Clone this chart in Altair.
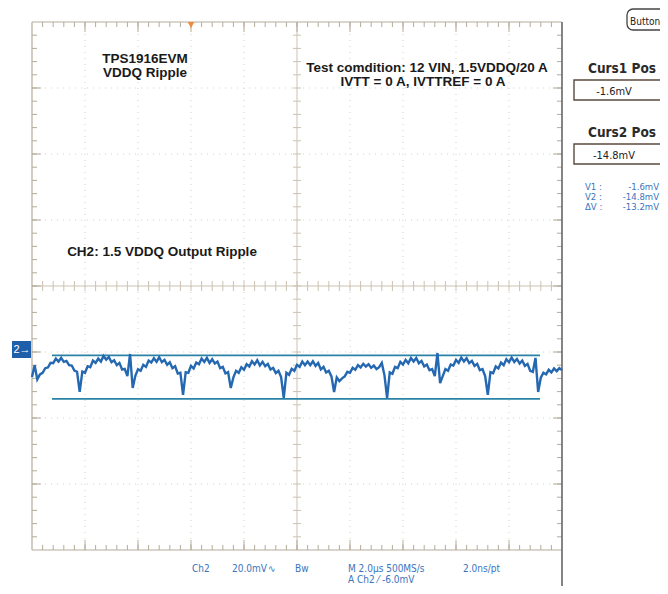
import altair as alt
import pandas as pd

# CH2 trace (mV relative to CH2 ground), one sample per 0.1 us, 0 .. 20 us
CH2_MV = [
    -8.2, -4.6, -8.9, -7.4, -6.9, -5.5, -5.3, -3.9, -4.0, -2.6,
    -3.5, -2.4, -3.6, -3.3, -4.6, -4.7, -6.2, -6.6, -12.7, -6.5,
    -6.9, -4.9, -5.2, -3.2, -3.9, -2.6, -3.5, -1.8, -2.9, -2.1,
    -3.7, -3.1, -4.6, -3.9, -5.9, -5.7, -7.9, -1.2, -11.5, -7.8,
    -5.8, -6.3, -4.5, -5.1, -3.2, -3.8, -2.5, -3.6, -2.2, -3.7,
    -3.0, -4.5, -3.7, -5.5, -4.9, -7.1, -6.9, -13.6, -6.7, -6.9,
    -4.8, -5.6, -3.8, -4.3, -2.6, -3.6, -2.4, -3.9, -2.8, -4.1,
    -3.5, -5.5, -5.1, -7.1, -6.7, -11.5, -8.3, -6.3, -6.9, -5.2,
    -6.0, -4.3, -5.0, -3.4, -4.4, -3.1, -4.7, -3.6, -4.9, -4.2,
    -5.9, -5.4, -7.0, -6.3, -8.2, -14.5, -6.9, -7.5, -5.7, -6.3,
    -4.5, -5.1, -3.5, -4.6, -3.5, -4.6, -3.4, -4.8, -3.9, -5.9,
    -5.1, -6.8, -6.3, -8.0, -12.7, -8.3, -9.4, -8.6, -8.0, -6.6,
    -6.9, -5.4, -6.0, -4.6, -5.3, -4.2, -5.0, -4.3, -5.4, -4.7,
    -5.8, -5.2, -3.9, -7.6, -14.5, -6.8, -7.2, -5.1, -5.5, -3.6,
    -4.4, -3.0, -4.0, -2.4, -3.5, -2.4, -4.0, -3.3, -5.0, -4.4,
    -6.1, -5.8, -7.9, -0.9, -10.0, -7.9, -5.8, -6.3, -4.4, -4.7,
    -3.0, -3.9, -2.3, -3.5, -2.5, -4.0, -3.3, -4.8, -4.2, -6.1,
    -5.8, -7.9, -13.6, -6.7, -7.0, -5.0, -5.6, -3.8, -4.6, -2.8,
    -3.7, -2.3, -3.6, -2.7, -4.1, -3.2, -4.8, -4.2, -6.3, -6.6,
    -2.4, -12.7, -8.4, -6.9, -7.4, -6.0, -6.8, -5.6, -6.4, -5.5,
    -6.1,
]
TIME_STEP_US = 0.1
TIME_US = [round(i * TIME_STEP_US, 1) for i in range(len(CH2_MV))]

US_PER_DIV = 2.0
MV_PER_DIV = 20.0
X_DIVS = 10
Y_DIVS = 8
CH2_GROUND_POS_MV = -19.4        # where CH2 ground sits on screen (mV from centre)
CURSOR_MV = [-1.6, -14.8]
TRIGGER_TIME_US = 6.0

TITLE_LINES = ["TPS1916EVM", "VDDQ Ripple"]
CONDITION_LINES = ["Test comdition: 12 VIN, 1.5VDDQ/20 A", "IVTT = 0 A, IVTTREF = 0 A"]
CHANNEL_NOTE = "CH2: 1.5 VDDQ Output Ripple"
BUTTON_TEXT = "Button"
CURSOR_HEADERS = ["Curs1 Pos", "Curs2 Pos"]
CURSOR_BOX_TEXT = ["-1.6mV", "-14.8mV"]
READOUT_LABELS = ["V1 :", "V2 :", "\u0394V :"]
READOUT_VALUES = ["-1.6mV", "-14.8mV", "-13.2mV"]
STATUS_ROW1 = ["Ch2", "20.0mV", "\u223f", "Bw", "M 2.0\u00b5s 500MS/s", "2.0ns/pt"]
STATUS_ROW2 = ["A  Ch2  \u2044  -6.0mV"]
CH_MARKER = "2\u2192"

# ---------------- layout ----------------
W, H = 530, 528
T_MAX = US_PER_DIV * X_DIVS
V_HALF = MV_PER_DIV * Y_DIVS / 2
CX, CY = W / 2, H / 2

SANS = "Liberation Sans, Arial, Helvetica, sans-serif"
NARROW = "DejaVu Sans Condensed, Liberation Sans Narrow, Liberation Sans, sans-serif"
GRID_C = "#d9d1c3"
CROSS_C = "#cbc2b2"
FRAME_C = "#b5ac9b"
TRACE_C = "#2468b2"
CURSOR_C = "#2a83a6"
READ_C = "#3a74bd"

xs = alt.Scale(domain=[0, T_MAX], nice=False, zero=False)
ys = alt.Scale(domain=[-V_HALF, V_HALF], nice=False, zero=False)
ONE = pd.DataFrame({"k": [0]})


def X(field):
    return alt.X(f"{field}:Q", scale=xs, axis=None)


def Y(field):
    return alt.Y(f"{field}:Q", scale=ys, axis=None)


layers = []

# dotted division grid
gx = pd.DataFrame({"t": [US_PER_DIV * k for k in range(1, X_DIVS) if k != X_DIVS // 2]})
gy = pd.DataFrame({"v": [MV_PER_DIV * k - V_HALF for k in range(1, Y_DIVS) if k != Y_DIVS // 2]})
layers.append(alt.Chart(gx).mark_rule(color=GRID_C, strokeDash=[1, 5], strokeWidth=1).encode(x=X("t")))
layers.append(alt.Chart(gy).mark_rule(color=GRID_C, strokeDash=[1, 5], strokeWidth=1).encode(y=Y("v")))

# centre cross
layers.append(alt.Chart(pd.DataFrame({"t": [T_MAX / 2]})).mark_rule(color=CROSS_C, strokeWidth=1).encode(x=X("t")))
layers.append(alt.Chart(pd.DataFrame({"v": [0.0]})).mark_rule(color=CROSS_C, strokeWidth=1).encode(y=Y("v")))

# minor tick positions (5 per division)
tmin = pd.DataFrame({"t": [k * US_PER_DIV / 5 for k in range(1, X_DIVS * 5)]})
vmin = pd.DataFrame({"v": [k * MV_PER_DIV / 5 - V_HALF for k in range(1, Y_DIVS * 5)]})
tmaj = pd.DataFrame({"t": [k * US_PER_DIV for k in range(1, X_DIVS)]})
vmaj = pd.DataFrame({"v": [k * MV_PER_DIV - V_HALF for k in range(1, Y_DIVS)]})

# ticks on centre cross
layers.append(alt.Chart(tmin).mark_rule(color=CROSS_C).encode(x=X("t"), y=alt.value(CY - 5), y2=alt.value(CY + 5)))
layers.append(alt.Chart(vmin).mark_rule(color=CROSS_C).encode(y=Y("v"), x=alt.value(CX - 4), x2=alt.value(CX + 4)))

# frame (left, top, bottom) and ticks on it
layers.append(alt.Chart(ONE).mark_rule(color=FRAME_C, strokeWidth=1.2).encode(x=alt.value(0), y=alt.value(0), y2=alt.value(H)))
layers.append(alt.Chart(ONE).mark_rule(color=FRAME_C, strokeWidth=1.2).encode(y=alt.value(0), x=alt.value(0), x2=alt.value(W)))
layers.append(alt.Chart(ONE).mark_rule(color=FRAME_C, strokeWidth=1.2).encode(y=alt.value(H), x=alt.value(0), x2=alt.value(W)))
layers.append(alt.Chart(tmin).mark_rule(color=FRAME_C).encode(x=X("t"), y=alt.value(0), y2=alt.value(5)))
layers.append(alt.Chart(tmin).mark_rule(color=FRAME_C).encode(x=X("t"), y=alt.value(H - 5), y2=alt.value(H)))
layers.append(alt.Chart(tmaj).mark_rule(color=FRAME_C).encode(x=X("t"), y=alt.value(0), y2=alt.value(10)))
layers.append(alt.Chart(tmaj).mark_rule(color=FRAME_C).encode(x=X("t"), y=alt.value(H - 10), y2=alt.value(H)))
layers.append(alt.Chart(vmin).mark_rule(color=FRAME_C).encode(y=Y("v"), x=alt.value(0), x2=alt.value(5)))
layers.append(alt.Chart(vmin).mark_rule(color=FRAME_C).encode(y=Y("v"), x=alt.value(W - 5), x2=alt.value(W)))
layers.append(alt.Chart(vmaj).mark_rule(color=FRAME_C).encode(y=Y("v"), x=alt.value(0), x2=alt.value(9)))
layers.append(alt.Chart(vmaj).mark_rule(color=FRAME_C).encode(y=Y("v"), x=alt.value(W - 9), x2=alt.value(W)))

# dark right edge of the graticule window
layers.append(alt.Chart(ONE).mark_rule(color="#666666", strokeWidth=1.6).encode(x=alt.value(W), y=alt.value(0), y2=alt.value(H + 40)))

# cursors
cur = pd.DataFrame({"v": [c + CH2_GROUND_POS_MV for c in CURSOR_MV]})
layers.append(alt.Chart(cur).mark_rule(color=CURSOR_C, strokeWidth=1.8).encode(y=Y("v"), x=alt.value(20), x2=alt.value(508)))

# trace
trace = pd.DataFrame({"t": TIME_US, "v": [m + CH2_GROUND_POS_MV for m in CH2_MV]})
layers.append(alt.Chart(trace).mark_line(color=TRACE_C, strokeWidth=2.4, interpolate="linear",
                                         strokeJoin="miter").encode(x=X("t"), y=Y("v")))

# trigger position marker
layers.append(alt.Chart(pd.DataFrame({"t": [TRIGGER_TIME_US]})).mark_point(
    shape="triangle-down", filled=True, size=45, color="#f08a3c", opacity=1).encode(x=X("t"), y=alt.value(3)))

# channel ground marker
gnd = pd.DataFrame({"v": [CH2_GROUND_POS_MV]})
layers.append(alt.Chart(ONE).mark_rect(color="#1f5ea8").encode(
    x=alt.value(-20), x2=alt.value(-1), y=alt.value(319), y2=alt.value(336)))
layers.append(alt.Chart(gnd).mark_text(text=CH_MARKER, color="white", fontSize=11, font=SANS,
                                       align="center", baseline="middle").encode(x=alt.value(-10), y=Y("v")))


def txt(s, x, y, size, color="#1a1a1a", weight="normal", align="left", font=SANS):
    return alt.Chart(ONE).mark_text(text=s, fontSize=size, fontWeight=weight, color=color, align=align,
                                    baseline="alphabetic", font=font).encode(x=alt.value(x), y=alt.value(y))


# annotations inside the graticule
layers.append(txt(TITLE_LINES[0], 113, 41, 13.5, weight="bold", align="center"))
layers.append(txt(TITLE_LINES[1], 113, 55, 13.5, weight="bold", align="center"))
layers.append(txt(CONDITION_LINES[0], 395, 50, 13.5, weight="bold", align="center"))
layers.append(txt(CONDITION_LINES[1], 391, 64, 13.5, weight="bold", align="center"))
layers.append(txt(CHANNEL_NOTE, 130, 234, 13.5, weight="bold", align="center"))

# right side menu
layers.append(alt.Chart(ONE).mark_rect(fill="white", stroke="#444444", strokeWidth=1.3, cornerRadius=6).encode(
    x=alt.value(595), x2=alt.value(650), y=alt.value(-13), y2=alt.value(8)))
layers.append(txt(BUTTON_TEXT, 598, 3, 10, color="#222222", font=NARROW))
for i, (head, val) in enumerate(zip(CURSOR_HEADERS, CURSOR_BOX_TEXT)):
    dy = i * 64
    layers.append(txt(head, 590, 51 + dy, 13.5, color="#2a2a2a", weight="bold", align="center", font=NARROW))
    layers.append(alt.Chart(ONE).mark_rect(fill="white", stroke="#5b4a3c", strokeWidth=1.4).encode(
        x=alt.value(542), x2=alt.value(650), y=alt.value(58 + dy), y2=alt.value(78 + dy)))
    layers.append(txt(val, 582, 73 + dy, 11, color="#222222", align="center", font=NARROW))
for i, (lab, val) in enumerate(zip(READOUT_LABELS, READOUT_VALUES)):
    layers.append(txt(lab, 553, 168 + 10 * i, 9.5, color=READ_C, font=NARROW))
    layers.append(txt(val, 627, 168 + 10 * i, 9.5, color=READ_C, align="right", font=NARROW))

# status line at the bottom
row1_x = [160, 200, 236, 263, 316, 431]
for s, x in zip(STATUS_ROW1, row1_x):
    layers.append(txt(s, x, 550, 10, color=READ_C, font=NARROW))
layers.append(txt(STATUS_ROW2[0], 316, 561, 10, color=READ_C, font=NARROW))

chart = alt.layer(*layers).properties(
    width=W, height=H,
    padding={"left": 24, "top": 14, "right": 98, "bottom": 36},
    autosize=alt.AutoSizeParams(type="none"),
    background="white",
).configure_view(stroke=None)

chart.save("out.html", embed_options={"renderer": "svg", "actions": False})
